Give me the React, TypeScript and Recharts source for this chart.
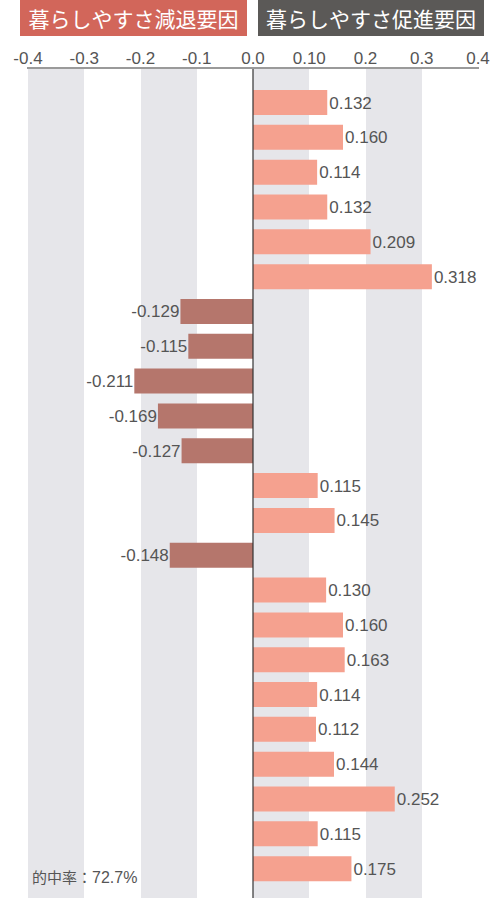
import { BarChart, Bar, XAxis, YAxis, CartesianGrid, ReferenceLine, LabelList, Cell } from "recharts";

const rowIds = Array.from({ length: 23 }, (_, i) => `r${i + 1}`);
const values = [
  0.132, 0.16, 0.114, 0.132, 0.209, 0.318,
  -0.129, -0.115, -0.211, -0.169, -0.127,
  0.115, 0.145, -0.148,
  0.13, 0.16, 0.163, 0.114, 0.112, 0.144, 0.252, 0.115, 0.175,
];
const xTicks = [-0.4, -0.3, -0.2, -0.1, 0, 0.1, 0.2, 0.3, 0.4];
const xTickLabels = ["-0.4", "-0.3", "-0.2", "-0.1", "0.0", "0.10", "0.2", "0.3", "0.4"];
const headerNeg = "暮らしやすさ減退要因";
const headerPos = "暮らしやすさ促進要因";
const footLabel = "的中率：";
const footValue = "72.7%";

const data = rowIds.map((id, i) => ({ id, value: values[i] }));

const POS = "#F5A18F";
const NEG = "#B5766C";
const JP = "'Noto Sans CJK JP', sans-serif";
const NUM = "'Liberation Sans', Arial, sans-serif";

function ValueLabel(props: any) {
  const { x, y, width, height, value } = props;
  const left = Math.min(x, x + width);
  const right = Math.max(x, x + width);
  const neg = value < 0;
  return (
    <text
      x={neg ? left - 1 : right + 2}
      y={y + height / 2}
      dy={6}
      textAnchor={neg ? "end" : "start"}
      fontSize={17}
      fill="#555"
      fontFamily={NUM}
    >
      {value.toFixed(3)}
    </text>
  );
}

const headerStyle = {
  position: "absolute" as const,
  top: 0,
  height: 36,
  color: "#fff",
  fontSize: 21,
  lineHeight: "36px",
  textAlign: "center" as const,
  fontFamily: JP,
};

export default function App() {
  return (
    <div style={{ position: "absolute", left: 0, top: 0, width: 504, height: 898, background: "#fff" }}>
      <div style={{ ...headerStyle, left: 20, width: 227, background: "#D2665A" }}>{headerNeg}</div>
      <div style={{ ...headerStyle, left: 258, width: 226, background: "#5B5957" }}>{headerPos}</div>
      <div style={{ position: "absolute", left: 0, top: 0 }}>
        <BarChart
          width={504}
          height={898}
          data={data}
          layout="vertical"
          margin={{ top: 38, right: 26, bottom: 0, left: 28 }}
          barSize={25}
        >
          <CartesianGrid
            horizontal={false}
            vertical
            stroke="none"
            verticalFill={["#E6E6EA", "transparent"]}
            fillOpacity={1}
          />
          <XAxis
            type="number"
            orientation="top"
            height={30}
            domain={[-0.4, 0.4]}
            ticks={xTicks}
            allowDataOverflow
            tickLine={false}
            tickSize={4}
            tickMargin={0}
            axisLine={{ stroke: "#9a9a9a", strokeWidth: 2 }}
            tick={{ fill: "#555", fontSize: 17, fontFamily: NUM }}
            tickFormatter={(v: number) => xTickLabels[xTicks.indexOf(v)] ?? String(v)}
            interval={0}
          />
          <YAxis type="category" dataKey="id" hide padding={{ top: 17, bottom: 12 }} />
          <ReferenceLine x={0} stroke="#333" strokeWidth={1.2} />
          <Bar dataKey="value" isAnimationActive={false}>
            {data.map((d) => (
              <Cell key={d.id} fill={d.value < 0 ? NEG : POS} />
            ))}
            <LabelList dataKey="value" content={ValueLabel} />
          </Bar>
        </BarChart>
      </div>
      {/* top axis rule, drawn over the grey bands */}
      <div style={{ position: "absolute", left: 27, top: 67, width: 452, height: 2, background: "#9a9a9a" }} />
      <div style={{ position: "absolute", left: 32, top: 866, color: "#555", whiteSpace: "nowrap" }}>
        <span style={{ fontFamily: JP, fontSize: 15 }}>{footLabel}</span>
        <span style={{ fontFamily: NUM, fontSize: 16 }}>{footValue}</span>
      </div>
    </div>
  );
}
